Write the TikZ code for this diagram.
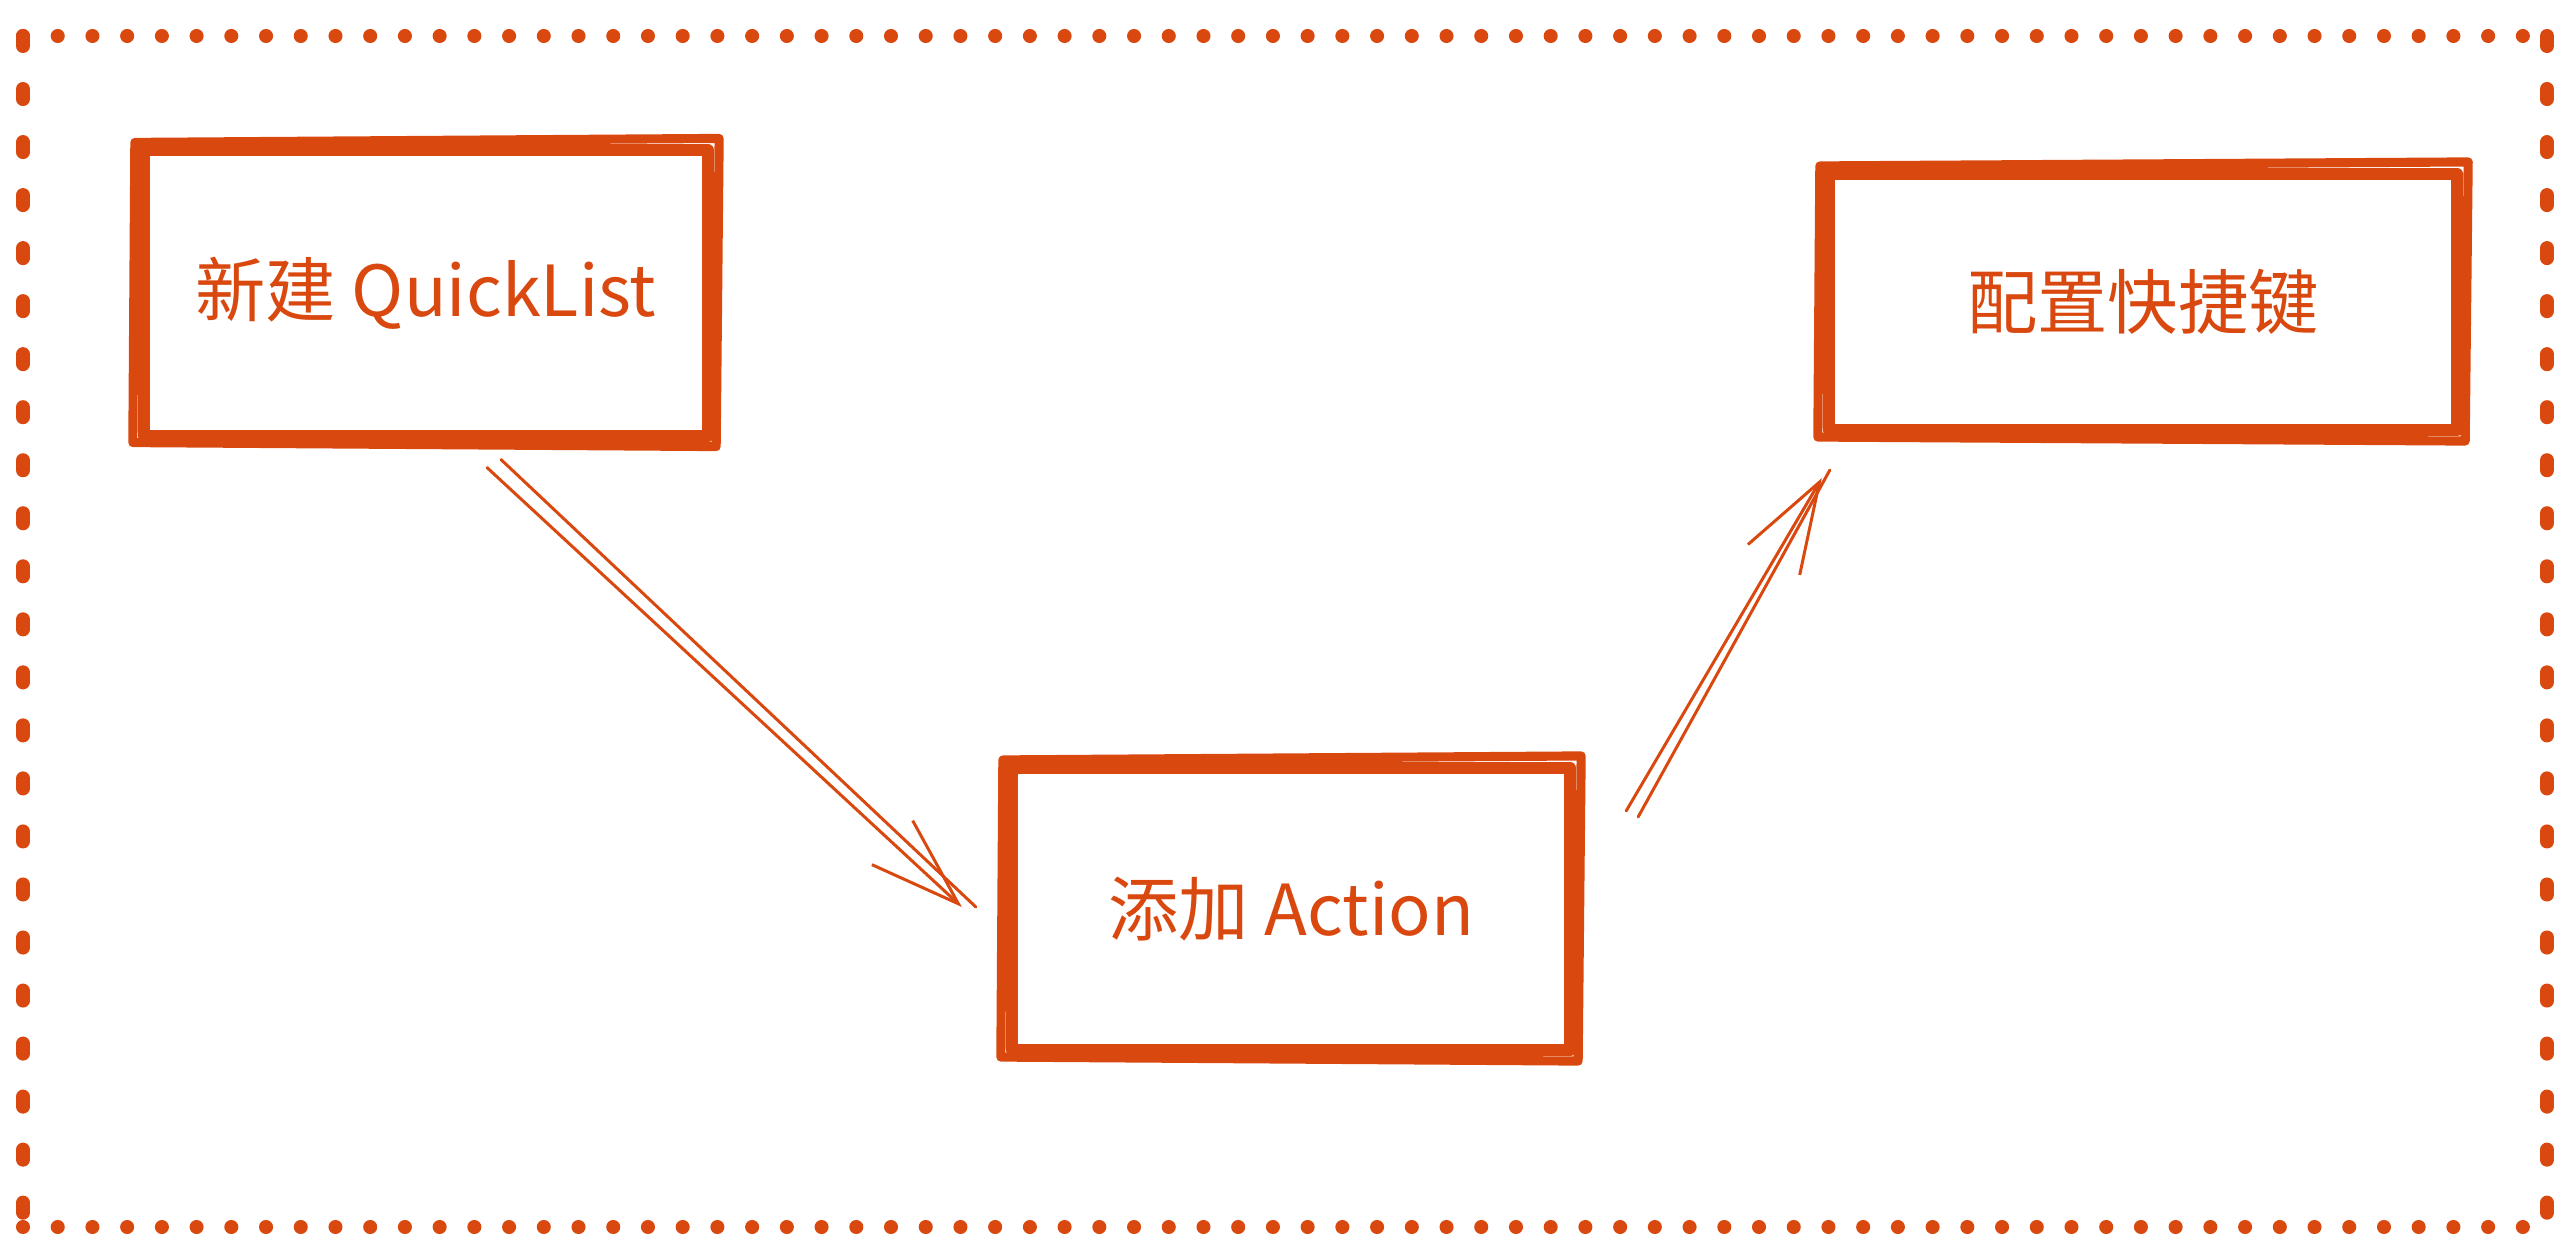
\documentclass[tikz,border=0pt]{standalone}
\usepackage{fontspec}
\setmainfont{Noto Sans CJK SC}
\usetikzlibrary{arrows.meta}

\definecolor{sketchorange}{HTML}{D9480F}

% second, slightly skewed stroke round a box
\newcommand{\roughframe}[1]{%
  \draw[sketchline] ([shift={(-3,-2)}]#1.north west) -- ([shift={(5,-6)}]#1.north east)
    -- ([shift={(2,5)}]#1.south east) -- ([shift={(-5,1)}]#1.south west) -- cycle;}

\begin{document}
\begin{tikzpicture}[
        x=0.01cm, y=-0.01cm,
        stepbox/.style={rectangle, draw=sketchorange, line width=3.4pt, line join=round,
          text=sketchorange, font=\fontsize{20pt}{24pt}\selectfont, inner sep=0pt},
        sketchline/.style={draw=sketchorange, line width=2.6pt, line join=round, line cap=round},
        flow/.style={draw=sketchorange, line width=0.85pt, line cap=round,
          -{Straight Barb[length=9mm, width=6mm, line width=0.85pt]}},
        flowtwin/.style={draw=sketchorange, line width=0.85pt, line cap=round}
      ]
        \useasboundingbox (0,0) rectangle (2572,1258);

        % dotted frame
        \draw[sketchorange, line width=4pt, line cap=round, dash pattern=on 0pt off 0.347cm]
          (23,36) -- (2547,36) (23,1227) -- (2547,1227);
        \draw[sketchorange, line width=4pt, line cap=round, dash pattern=on 0.1cm off 0.43cm]
          (23,36) -- (23,1227) (2547,36) -- (2547,1227);

        % the three steps
        \node[stepbox, minimum width=5.64cm, minimum height=2.85cm] (newlist) at (426,293) {新建 QuickList};
        \node[stepbox, minimum width=5.58cm, minimum height=2.82cm] (addaction) at (1291,909) {添加 Action};
        \node[stepbox, minimum width=6.28cm, minimum height=2.56cm] (hotkey) at (2143,302) {配置快捷键};

        \roughframe{newlist}
        \roughframe{addaction}
        \roughframe{hotkey}

        % connectors
        \coordinate (tipone) at ([shift={(-44,-2)}]addaction.west);
        \coordinate (tiptwo) at ([shift={(-1,42)}]hotkey.south west);

        \draw[flow] ([shift={(61,26)}]newlist.south) -- (tipone);
        \draw[flowtwin] ([shift={(75,18)}]newlist.south) -- ([shift={(14,0)}]tipone);

        \draw[flow] ([shift={(50,49)}]addaction.north east) -- (tiptwo);
        \draw[flowtwin] ([shift={(62,55)}]addaction.north east) -- ([shift={(8,-8)}]tiptwo);
      \end{tikzpicture}
\end{document}
